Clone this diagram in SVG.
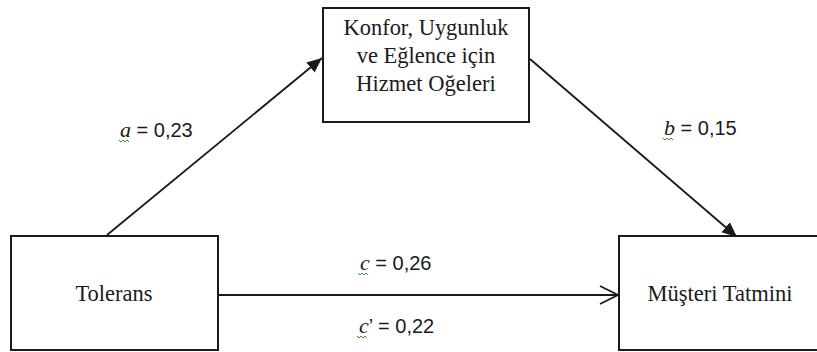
<svg xmlns="http://www.w3.org/2000/svg" width="817" height="352" viewBox="0 0 817 352">
<style>
.box{fill:#fff;stroke:#1a1a1a;stroke-width:2}
.node{font-family:'Liberation Serif','DejaVu Serif',serif;font-size:22.5px;fill:#1a1a1a;text-anchor:middle}
.lbl{font-family:'Liberation Sans','DejaVu Sans',sans-serif;font-size:20px;fill:#1a1a1a}
.it{font-family:'Liberation Serif','DejaVu Serif',serif;font-style:italic;font-size:22px}
.conn{stroke:#1a1a1a;stroke-width:1.8;fill:none}
.sq{stroke:#3a9a3a;stroke-width:1;fill:none}
</style>
<defs>
<marker id="fa" markerUnits="userSpaceOnUse" markerWidth="16" markerHeight="14" refX="15" refY="6.5" orient="auto">
<path d="M0,0 L15,6.5 L0,13 z" fill="#1a1a1a"/>
</marker>
<marker id="oa" markerUnits="userSpaceOnUse" markerWidth="22" markerHeight="22" refX="19" refY="10" orient="auto">
<path d="M1,1 L19,10 L1,19" fill="none" stroke="#1a1a1a" stroke-width="1.8"/>
</marker>
</defs>
<g id="connectors">
<line class="conn" x1="107" y1="235" x2="322" y2="58" marker-end="url(#fa)"/>
<line class="conn" x1="530" y1="59" x2="737" y2="237" marker-end="url(#fa)"/>
<line class="conn" x1="218" y1="295" x2="618" y2="295" marker-end="url(#oa)"/>
</g>
<g id="node-hizmet">
<rect class="box" x="323" y="8" width="206" height="114"/>
<text class="node" x="426" y="35" textLength="165" lengthAdjust="spacingAndGlyphs">Konfor, Uygunluk</text>
<text class="node" x="426" y="63">ve Eğlence için</text>
<text class="node" x="426" y="91">Hizmet Oğeleri</text>
</g>
<g id="node-tolerans">
<rect class="box" x="11" y="236" width="207" height="114"/>
<text class="node" x="114" y="301">Tolerans</text>
</g>
<g id="node-musteri">
<rect class="box" x="619" y="236" width="210" height="114"/>
<text class="node" x="720" y="301">Müşteri Tatmini</text>
</g>
<g id="labels">
<text class="lbl" x="120" y="137"><tspan class="it">a</tspan> = 0,23</text>
<path class="sq" d="M119,140 l2,2 l2,-2 l2,2 l2,-2 l2,2"/>
<text class="lbl" x="664" y="135"><tspan class="it">b</tspan> = 0,15</text>
<path class="sq" d="M663,138 l2,2 l2,-2 l2,2 l2,-2 l2,2"/>
<text class="lbl" x="360" y="270"><tspan class="it">c</tspan> = 0,26</text>
<path class="sq" d="M358,273 l2,2 l2,-2 l2,2 l2,-2 l2,2"/>
<text class="lbl" x="359" y="333"><tspan class="it">c</tspan>’ = 0,22</text>
<path class="sq" d="M357,336 l2,2 l2,-2 l2,2 l2,-2 l2,2"/>
</g>
</svg>
